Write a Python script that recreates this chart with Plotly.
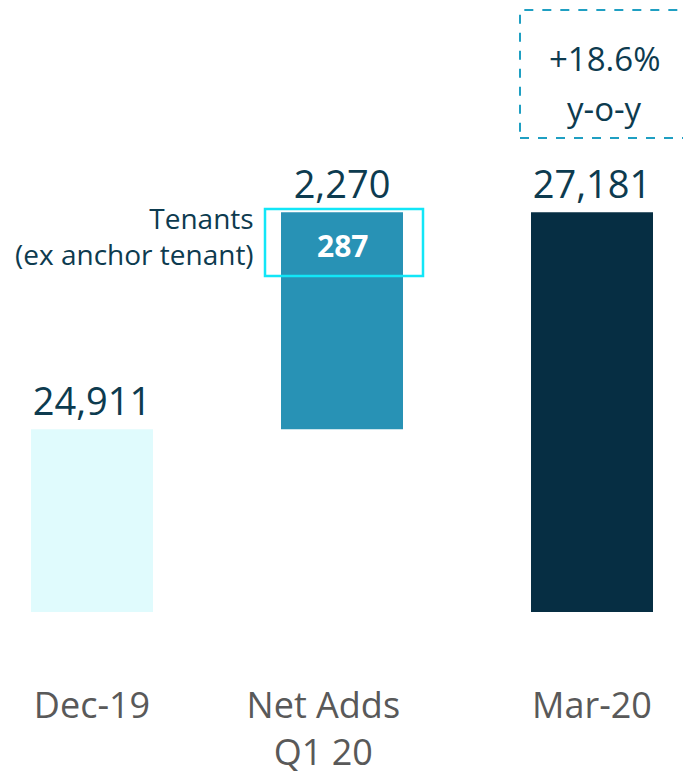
import plotly.graph_objects as go

NB = "\u00a0" * 4
categories = ["Dec-19", "Net Adds" + NB + "<br>Q1 20" + NB, "Mar-20"]
values = [24911, 2270, 27181]
value_labels = ["24,911", "2,270", "27,181"]
bar_colors = ["#E0FBFD", "#2892B5", "#062E43"]
axis_floor = 23000
tenants_value = 287
yoy_value = "+18.6%"
yoy_label = "y-o-y"

bases = [axis_floor, values[0], axis_floor]
heights = [values[0] - axis_floor, values[1], values[2] - axis_floor]

fig = go.Figure()
fig.add_trace(go.Bar(
    x=categories, y=heights, base=bases,
    marker=dict(color=bar_colors, line=dict(width=0)),
    width=0.488,
    text=value_labels, textposition="outside",
    textfont=dict(size=38, color="#0D3B4F", family="Open Sans"),
    cliponaxis=False,
    hoverinfo="skip",
))

fig.add_annotation(x=1, y=values[0] + values[1], yshift=-33,
                   text="<b>%d</b>" % tenants_value, showarrow=False,
                   xanchor="center", yanchor="middle",
                   font=dict(size=30, color="white", family="Open Sans"))

fig.add_shape(type="rect", xref="x", yref="paper", x0=0.692, x1=1.324,
              y0=0.549, y1=0.6585, line=dict(color="#12E6F7", width=2.5))

fig.add_annotation(xref="paper", yref="paper", x=256/683, y=(612-236)/612,
                   xanchor="right", yanchor="middle", align="right",
                   text="Tenants<br>(ex anchor tenant)", showarrow=False,
                   font=dict(size=28, color="#0D3B4F", family="Open Sans"))

fig.add_shape(type="rect", xref="paper", yref="paper", x0=520/683, x1=1.02,
              y0=(612-138)/612, y1=(612-10)/612,
              line=dict(color="#1F9FC2", width=2, dash="dash"))
fig.add_annotation(xref="paper", yref="paper", x=604/683, y=(612-58)/612,
                   xanchor="center", yanchor="middle",
                   text=yoy_value, showarrow=False,
                   font=dict(size=33, color="#0D3B4F", family="Open Sans"))
fig.add_annotation(xref="paper", yref="paper", x=604/683, y=(612-108)/612,
                   xanchor="center", yanchor="middle",
                   text=yoy_label, showarrow=False,
                   font=dict(size=33, color="#0D3B4F", family="Open Sans"))

fig.update_layout(
    width=683, height=777,
    margin=dict(l=0, r=0, t=0, b=165),
    plot_bgcolor="white", paper_bgcolor="white",
    showlegend=False,
    xaxis=dict(range=[-0.368, 2.364], showgrid=False, zeroline=False, showline=False,
               ticks="", tickfont=dict(size=36, color="#595959", family="Open Sans"),
               ticklabelstandoff=69),
    yaxis=dict(range=[axis_floor, 29400], visible=False),
)

fig.write_html("out.html", config={"displayModeBar": False},
               post_script="document.body.style.margin='0';")
